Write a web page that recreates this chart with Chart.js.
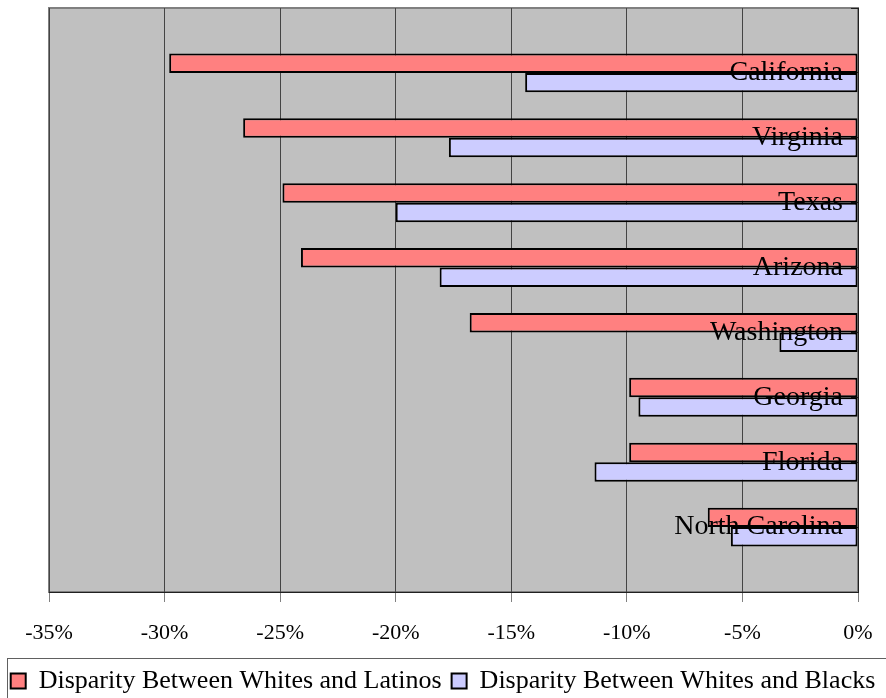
<!DOCTYPE html>
<html>
<head>
<meta charset="utf-8">
<script src="https://cdn.jsdelivr.net/npm/chart.js@4.4.1/dist/chart.umd.min.js"></script>
<style>
  html, body { margin: 0; padding: 0; background: #fff; }
  #wrap { width: 886px; height: 698px; }
</style>
</head>
<body>
<div id="wrap"><canvas id="disparity" width="886" height="698"></canvas></div>
<script>
/* data */
var states = ['California', 'Virginia', 'Texas', 'Arizona', 'Washington', 'Georgia', 'Florida', 'North Carolina'];
var latinos = [-29.8, -26.6, -24.9, -24.1, -16.8, -9.9, -9.9, -6.5];
var blacks = [-14.4, -17.7, -20.0, -18.1, -3.4, -9.5, -11.4, -5.5];
var xTicks = [-35, -30, -25, -20, -15, -10, -5, 0];

// labels sit on the tick marks, so pad one empty slot above and below
var padLabels = [''].concat(states, ['']);
function pad(arr) { return [null].concat(arr, [null]); }

var serif = "'Liberation Serif', 'Times New Roman', serif";

var plotBg = {
  id: 'plotBg',
  beforeDraw: function (chart) {
    var a = chart.chartArea, c = chart.ctx;
    c.save();
    c.fillStyle = '#C0C0C0';
    c.fillRect(a.left, a.top, a.right - a.left, a.bottom - a.top);
    c.strokeStyle = '#808080';
    c.lineWidth = 2;
    c.strokeRect(a.left, a.top, a.right - a.left, a.bottom - a.top);
    c.restore();
  },
  afterDraw: function (chart) {
    var lg = chart.legend, c = chart.ctx;
    c.save();
    c.strokeStyle = '#606060';
    c.lineWidth = 1;
    c.strokeRect(7.5, lg.top + 0.5, 900, 60);
    c.restore();
  }
};

var ctx = document.getElementById('disparity');
var chart = new Chart(ctx, {
  type: 'bar',
  data: {
    labels: padLabels,
    datasets: [{
      label: 'Disparity Between Whites and Latinos',
      data: pad(latinos),
      backgroundColor: '#FF8080',
      borderColor: '#000000',
      borderWidth: 2,
      borderSkipped: false
    }, {
      label: 'Disparity Between Whites and Blacks',
      data: pad(blacks),
      backgroundColor: '#CCCCFF',
      borderColor: '#000000',
      borderWidth: 2,
      borderSkipped: false
    }]
  },
  options: {
    indexAxis: 'y',
    responsive: false,
    animation: false,
    layout: { autoPadding: false, padding: { top: 8, left: 0, right: 0, bottom: -6 } },
    datasets: { bar: { categoryPercentage: 0.6, barPercentage: 1 } },
    plugins: {
      tooltip: { enabled: false },
      legend: {
        position: 'bottom',
        labels: {
          font: { family: serif, size: 26 },
          color: '#000',
          boxWidth: 15,
          boxHeight: 15,
          padding: 10
        }
      }
    },
    scales: {
      x: {
        type: 'linear',
        min: -35,
        max: 0,
        afterBuildTicks: function (s) { s.ticks = xTicks.map(function (v) { return { value: v }; }); },
        afterFit: function (s) { s.height = 66; s.paddingLeft = 0; s.paddingRight = 0; },
        grid: { color: '#444444', lineWidth: 1, tickLength: 10, tickColor: '#808080' },
        border: { color: '#202020', width: 1 },
        ticks: {
          font: { family: serif, size: 22 },
          color: '#000',
          padding: 18,
          maxRotation: 0,
          callback: function (v) { return v + '%'; }
        }
      },
      y: {
        type: 'category',
        position: 'right',
        offset: false,
        afterFit: function (s) { s.width = 28; s.paddingTop = 0; s.paddingBottom = 0; },
        grid: { drawOnChartArea: false, offset: false, tickLength: -7, color: '#202020' },
        border: { color: '#202020', width: 1, z: 1 },
        ticks: {
          z: 1,
          mirror: true,
          padding: -15,
          font: { family: serif, size: 28 },
          color: '#000',
          autoSkip: false
        }
      },
      gap: {
        type: 'linear',
        position: 'left',
        display: true,
        afterFit: function (s) { s.width = 49; },
        grid: { display: false },
        border: { display: false },
        ticks: { display: false }
      }
    }
  },
  plugins: [plotBg]
});
</script>
</body>
</html>
